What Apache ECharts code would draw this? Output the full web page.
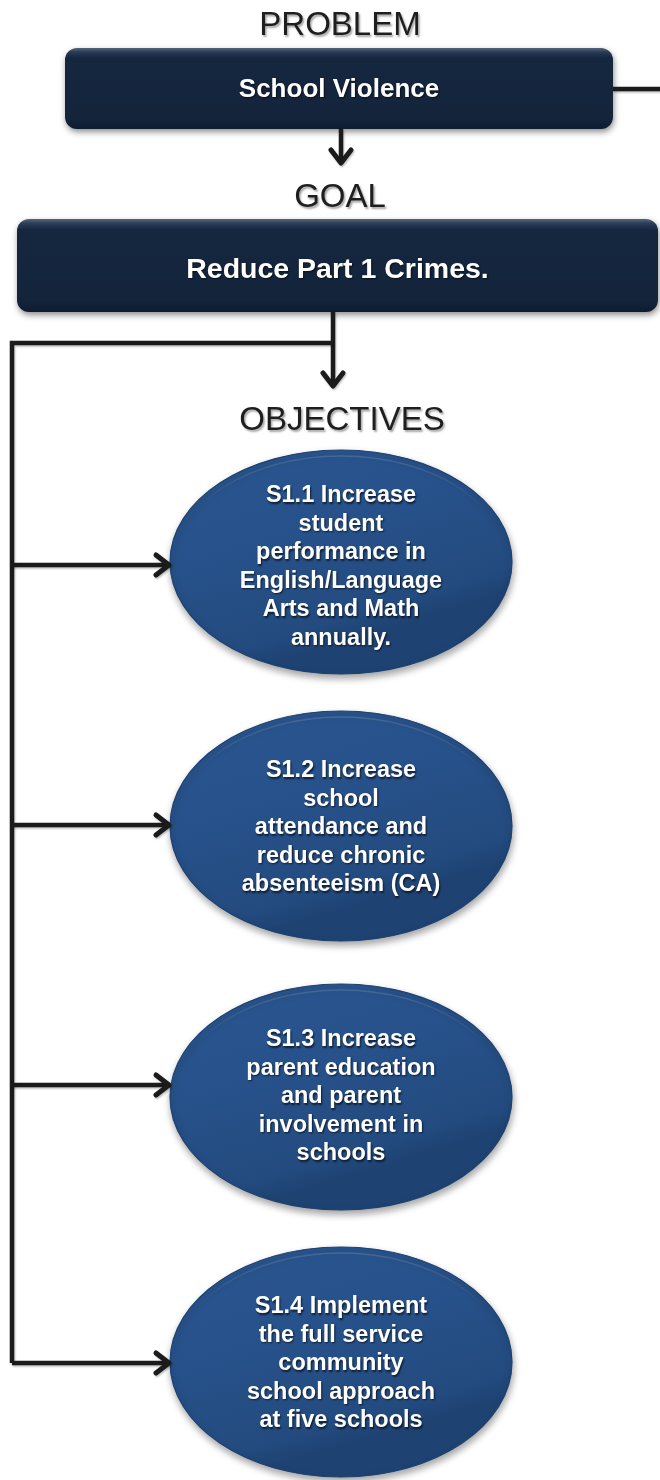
<!DOCTYPE html>
<html>
<head>
<meta charset="utf-8">
<script src="https://cdn.jsdelivr.net/npm/echarts@6/dist/echarts.min.js"></script>
<style>
html,body{margin:0;padding:0;background:#fff;}
#chart{width:660px;height:1480px;}
</style>
</head>
<body>
<div id="chart"></div>
<script>
// ---- content ----
const headings = ['PROBLEM', 'GOAL', 'OBJECTIVES'];
const problemText = 'School Violence';
const goalText = 'Reduce Part 1 Crimes.';
const objectives = [
  'S1.1 Increase\nstudent\nperformance in\nEnglish/Language\nArts and Math\nannually.',
  'S1.2 Increase\nschool\nattendance and\nreduce chronic\nabsenteeism (CA)',
  'S1.3 Increase\nparent education\nand parent\ninvolvement in\nschools',
  'S1.4 Implement\nthe full service\ncommunity\nschool approach\nat five schools'
];

// ---- layout ----
const headingY = [26, 198, 421];
const headingX = [340, 340, 342];
const problemBox = {x: 65, y: 48, w: 548, h: 81, textY: 90};
const goalBox = {x: 17, y: 219, w: 641, h: 93, textY: 270};
const ellipseCY = [562, 826, 1097, 1362];
const ellipseRY = [112, 115, 113, 115];
const textCY = [567, 828, 1097, 1364];
const arrowY = [565, 825, 1085, 1363];
const ellCX = 341, ellRX = 171;
const leftX = 12;
const LINE = '#1b1b1b';
const FONT = '"Liberation Sans", Arial, Helvetica, sans-serif';

const g = [];

function heading(t, x, y) {
  g.push({type: 'text', z: 10, style: {
    text: t, x: x, y: y, align: 'center', verticalAlign: 'middle',
    font: '33px ' + FONT, fill: '#1e1e1e',
    textShadowColor: 'rgba(0,0,0,0.35)', textShadowBlur: 2, textShadowOffsetX: 1.5, textShadowOffsetY: 1.5
  }});
}
function box(b, label, fontSize) {
  g.push({type: 'rect', z: 2, shape: {x: b.x, y: b.y, width: b.w, height: b.h, r: 12},
    style: {
      fill: {type: 'linear', x: 0, y: 0, x2: 0, y2: 1, colorStops: [
        {offset: 0, color: '#56657a'}, {offset: 0.05, color: '#2a3c56'}, {offset: 0.12, color: '#15273f'},
        {offset: 0.88, color: '#13243b'}, {offset: 1, color: '#0e1c31'}]},
      shadowBlur: 6, shadowOffsetX: 1, shadowOffsetY: 3, shadowColor: 'rgba(0,0,0,0.45)'
    }});
  g.push({type: 'text', z: 5, style: {
    text: label, x: b.x + b.w / 2, y: b.textY,
    align: 'center', verticalAlign: 'middle',
    font: 'bold ' + fontSize + 'px ' + FONT, fill: '#ffffff',
    textShadowColor: 'rgba(0,0,0,0.6)', textShadowBlur: 2, textShadowOffsetX: 1, textShadowOffsetY: 1
  }});
}
function line(points, w, cap) {
  g.push({type: 'polyline', z: 4, shape: {points: points},
    style: {stroke: LINE, lineWidth: w || 4.5, fill: null, lineJoin: cap ? 'round' : 'miter', lineCap: cap || 'butt',
      shadowBlur: 2, shadowOffsetX: 1, shadowOffsetY: 1.5, shadowColor: 'rgba(0,0,0,0.25)'}});
}
function arrowDown(x, y1, y2) {
  line([[x, y1], [x, y2 - 2]]);
  line([[x - 10, y2 - 13], [x, y2], [x + 10, y2 - 13]], 5, 'round');
}
function arrowRight(x1, x2, y) {
  line([[x1, y], [x2 - 2, y]]);
  line([[x2 - 13, y - 10], [x2, y], [x2 - 13, y + 10]], 5, 'round');
}

heading(headings[0], headingX[0], headingY[0]);
heading(headings[1], headingX[1], headingY[1]);
heading(headings[2], headingX[2], headingY[2]);

box(problemBox, problemText, 26);
box(goalBox, goalText, 28.5);

// connector from problem box off to the right
line([[problemBox.x + problemBox.w, 89], [662, 89]]);
// problem -> goal
arrowDown(341, problemBox.y + problemBox.h, 163);
// goal -> objectives
arrowDown(333, goalBox.y + goalBox.h, 386);
// branch to left rail
line([[333, 343], [leftX, 343], [leftX, arrowY[arrowY.length - 1]]]);

objectives.forEach(function (txt, i) {
  g.push({type: 'ellipse', z: 2,
    shape: {cx: ellCX, cy: ellipseCY[i], rx: ellRX, ry: ellipseRY[i]},
    style: {
      fill: {type: 'linear', x: 0, y: 0, x2: 0.2, y2: 1, colorStops: [
        {offset: 0, color: '#2a5690'}, {offset: 0.5, color: '#27518a'},
        {offset: 0.9, color: '#234b7f'}, {offset: 1, color: '#1e4272'}]},
      stroke: '#1e426f', lineWidth: 1.2,
      shadowBlur: 7, shadowOffsetX: 1, shadowOffsetY: 4, shadowColor: 'rgba(0,0,0,0.35)'
    }});
  // thin bevel highlight near the top rim
  g.push({type: 'ellipse', z: 3, silent: true,
    shape: {cx: ellCX, cy: ellipseCY[i] + 2, rx: ellRX - 4, ry: ellipseRY[i] - 4},
    style: {fill: null, lineWidth: 1.5, stroke: {type: 'linear', x: 0, y: 0, x2: 0, y2: 1, colorStops: [
      {offset: 0, color: 'rgba(255,255,255,0.14)'}, {offset: 0.25, color: 'rgba(255,255,255,0.0)'},
      {offset: 1, color: 'rgba(255,255,255,0)'}]}}});
  g.push({type: 'text', z: 6, style: {
    text: txt, x: ellCX, y: textCY[i], align: 'center', verticalAlign: 'middle',
    font: 'bold 23.5px ' + FONT, lineHeight: 28.5, fill: '#ffffff',
    textShadowColor: 'rgba(0,0,0,0.65)', textShadowBlur: 2, textShadowOffsetX: 1, textShadowOffsetY: 1.5
  }});
  arrowRight(leftX, ellCX - ellRX - 1, arrowY[i]);
});

const chart = echarts.init(document.getElementById('chart'), null, {renderer: 'canvas'});
chart.setOption({animation: false, backgroundColor: '#ffffff', graphic: g});
</script>
</body>
</html>
